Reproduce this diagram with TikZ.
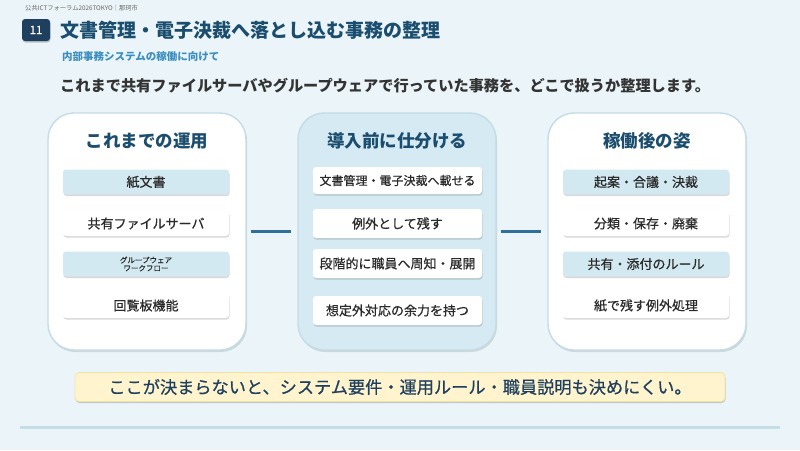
\documentclass[tikz,border=0pt]{standalone}
\usepackage{fontspec}
\setmainfont{Noto Sans CJK JP}
\newfontfamily\jpmed[FakeBold=0.6]{Noto Sans CJK JP}
\usetikzlibrary{shadows}
\definecolor{bg}{HTML}{EBF5F9}
\definecolor{navy}{HTML}{1E3F5E}
\definecolor{titleblue}{HTML}{1B4D6E}
\definecolor{subblue}{HTML}{3B8EC0}
\definecolor{leadgray}{HTML}{333333}
\definecolor{panelborder}{HTML}{C3DCE6}
\definecolor{centerfill}{HTML}{D5EAF3}
\definecolor{itemblue}{HTML}{D3E9F2}
\definecolor{itemtext}{HTML}{2A2A2A}
\definecolor{connblue}{HTML}{2F6F9A}
\definecolor{cream}{HTML}{FFF4CE}
\definecolor{creamborder}{HTML}{F2E2A6}
\definecolor{rulecol}{HTML}{C4DEE6}
\begin{document}
\begin{tikzpicture}[x=1pt,y=-1pt,
  panel/.style={draw=panelborder, line width=1.4pt, rounded corners=26pt,
    minimum width=198pt, minimum height=237pt, inner sep=0pt,
    drop shadow={shadow xshift=1pt, shadow yshift=-2pt, fill=black, opacity=0.12}},
  ptitle/.style={text=titleblue, font=\fontsize{17.5}{20}\selectfont\bfseries},
  item/.style={rounded corners=3pt, minimum width=166pt, minimum height=25pt,
    inner sep=0pt, text=itemtext, font=\jpmed\fontsize{13}{15}\selectfont, align=center,
    drop shadow={shadow xshift=0.5pt, shadow yshift=-1.5pt, fill=black, opacity=0.15}},
  bitem/.style={item, fill=itemblue},
  witem/.style={item, fill=white},
  conn/.style={color=connblue, line width=2.2pt}]
\useasboundingbox (0,0) rectangle (800,450);
\fill[bg] (0,0) rectangle (800,450);

% header
\node[anchor=west, text=black!60, font=\fontsize{6.3}{7}\selectfont, inner sep=0pt] (hdr) at (25,8) {公共ICTフォーラム2026TOKYO｜那珂市};
\node[fill=navy, rounded corners=3pt, minimum width=28pt, minimum height=22pt, inner sep=0pt,
  text=white, font=\jpmed\fontsize{11.5}{12}\selectfont,
  drop shadow={shadow xshift=0.5pt, shadow yshift=-1.5pt, fill=black, opacity=0.2}] (num) at (36,30) {11};
\node[anchor=west, inner sep=0pt, text=titleblue, font=\fontsize{19}{22}\selectfont\bfseries] (title) at (60,30) {文書管理・電子決裁へ落とし込む事務の整理};
\node[anchor=west, inner sep=0pt, text=subblue, font=\fontsize{10.5}{12}\selectfont\bfseries] (sub) at (62,57) {内部事務システムの稼働に向けて};
\node[anchor=west, inner sep=0pt, text=leadgray, font=\fontsize{15.2}{18}\selectfont\bfseries] (lead) at (60,86) {これまで共有ファイルサーバやグループウェアで行っていた事務を、どこで扱うか整理します。};

% panels
\node[panel, fill=white] (pL) at (147,231.5) {};
\node[panel, fill=centerfill] (pC) at (397,231.5) {};
\node[panel, fill=white] (pR) at (647,231.5) {};

\node[ptitle] (tL) at (147,141) {これまでの運用};
\node[ptitle] (tC) at (397,141) {導入前に仕分ける};
\node[ptitle] (tR) at (647,141) {稼働後の姿};

% left items
\node[bitem] (l1) at (146,182) {紙文書};
\node[witem] (l2) at (146,223.5) {共有ファイルサーバ};
\node[bitem, font=\jpmed\fontsize{7.5}{8}\selectfont] (l3) at (146,264) {グループウェア\\ワークフロー};
\node[witem] (l4) at (146,305.5) {回覧板機能};

% center items
\node[witem, minimum width=169pt, minimum height=27pt, font=\jpmed\fontsize{12}{14}\selectfont] (c1) at (397.5,180.5) {文書管理・電子決裁へ載せる};
\node[witem, minimum width=169pt, minimum height=29pt] (c2) at (397.5,223.5) {例外として残す};
\node[witem, minimum width=169pt, minimum height=29pt] (c3) at (397.5,263.5) {段階的に職員へ周知・展開};
\node[witem, minimum width=169pt, minimum height=29pt] (c4) at (397.5,310.5) {想定外対応の余力を持つ};

% right items
\node[bitem] (r1) at (646,182) {起案・合議・決裁};
\node[witem] (r2) at (646,223.5) {分類・保存・廃棄};
\node[bitem] (r3) at (646,264) {共有・添付のルール};
\node[witem] (r4) at (646,305.5) {紙で残す例外処理};

% connectors
\draw[conn, shorten <=4pt, shorten >=6pt] (pL.east) -- (pC.west);
\draw[conn, shorten <=4pt, shorten >=6pt] (pC.east) -- (pR.west);

% banner
\node[fill=cream, draw=creamborder, line width=0.8pt, rounded corners=4pt,
  minimum width=650pt, minimum height=29pt, inner sep=0pt,
  text=navy, font=\jpmed\fontsize{17.2}{19}\selectfont,
  drop shadow={shadow xshift=0.5pt, shadow yshift=-1.5pt, fill=black, opacity=0.18}] (banner) at (400,387) {ここが決まらないと、システム要件・運用ルール・職員説明も決めにくい。};

% bottom rule
\draw[rulecol, line width=3pt] (20,427) -- (780,427);
\end{tikzpicture}
\end{document}
